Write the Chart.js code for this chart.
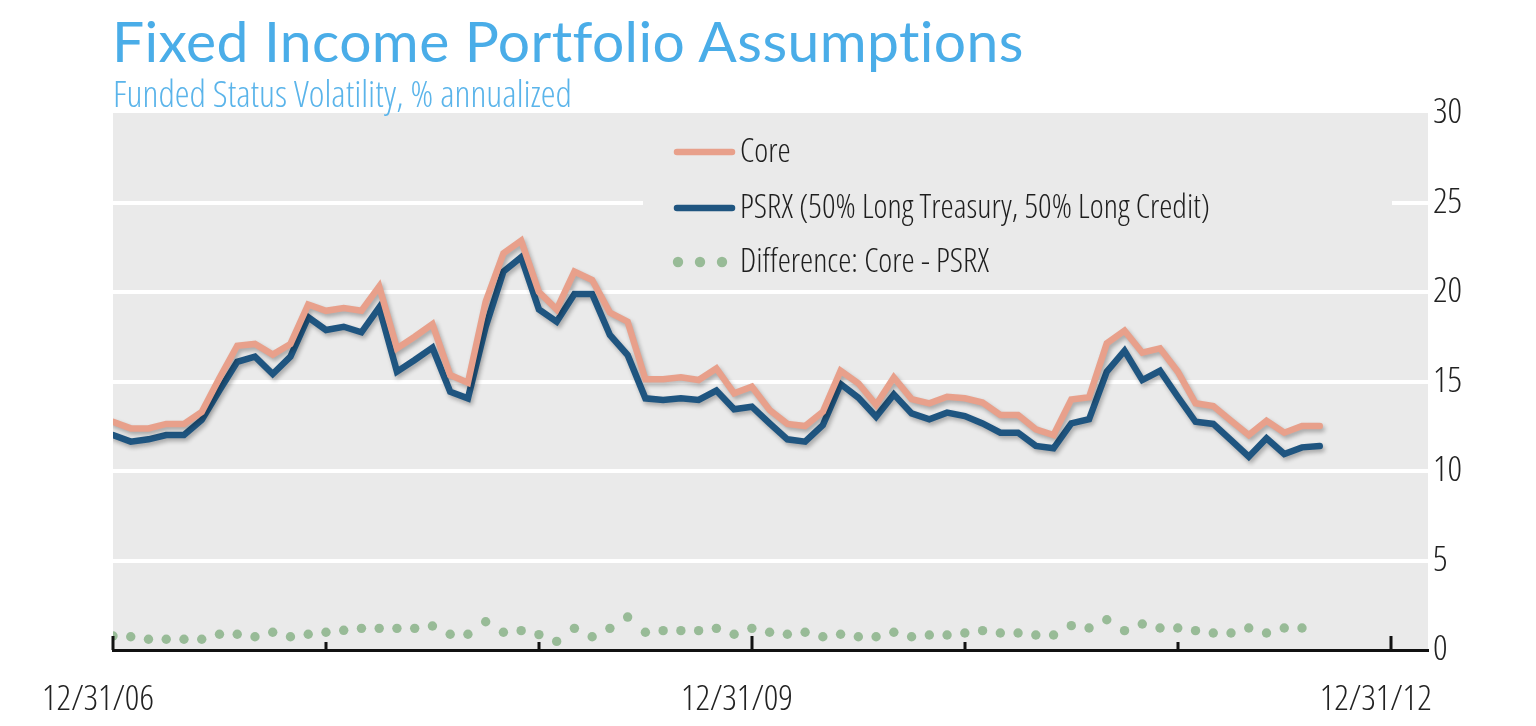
<!DOCTYPE html>
<html>
<head>
<meta charset="utf-8">
<script src="https://cdn.jsdelivr.net/npm/chart.js@4.4.0/dist/chart.umd.min.js"></script>
<style>
  html, body { margin: 0; padding: 0; background: #ffffff; }
  #wrap { position: relative; width: 1536px; height: 726px; overflow: hidden; }
  #title { position: absolute; left: 112px; top: 8px; font-family: Lato, 'Open Sans', sans-serif; font-size: 57px; line-height: 64px; letter-spacing: 0.4px; color: #4aade8; white-space: nowrap; }
  #subtitle { position: absolute; left: 113px; top: 74px; line-height: 1; color: #5ab4ea; white-space: nowrap; }
  canvas { position: absolute; left: 0; top: 0; }
</style>
</head>
<body>
<div id="wrap">
  <canvas id="c" width="1536" height="726"></canvas>
  <div id="title">Fixed Income Portfolio Assumptions</div>
  <div id="subtitle">Funded Status Volatility, % annualized</div>
</div>
<script>
// ---- Data (monthly, starting 12/31/06) ----
const seriesLabels = ['Core', 'PSRX (50% Long Treasury, 50% Long Credit)', 'Difference: Core - PSRX'];
const core = [12.75,12.38,12.38,12.63,12.63,13.3,15.2,17.0,17.1,16.5,17.1,19.3,18.95,19.1,18.95,20.3,16.85,17.5,18.2,15.36,14.93,19.46,22.16,22.87,20.0,19.03,21.14,20.67,18.85,18.34,15.12,15.12,15.23,15.08,15.73,14.34,14.71,13.41,12.63,12.51,13.31,15.6,14.9,13.7,15.23,14.02,13.78,14.15,14.06,13.82,13.13,13.13,12.33,12.01,14.0,14.12,17.13,17.84,16.61,16.85,15.55,13.78,13.63,12.81,12.01,12.81,12.14,12.51,12.51];
const psrx = [12.01,11.64,11.77,12.01,12.01,12.85,14.5,16.1,16.39,15.42,16.39,18.59,17.88,18.06,17.75,19.14,15.55,16.2,16.89,14.43,14.06,18.06,21.14,21.94,19.03,18.34,19.89,19.89,17.6,16.48,14.06,13.97,14.06,13.97,14.49,13.45,13.59,12.66,11.77,11.64,12.57,14.86,14.1,13.03,14.28,13.22,12.89,13.26,13.07,12.66,12.14,12.14,11.4,11.27,12.66,12.89,15.55,16.72,15.08,15.6,14.15,12.75,12.63,11.73,10.8,11.83,10.95,11.32,11.4];
const diff = [0.78,0.74,0.6,0.6,0.6,0.6,0.88,0.88,0.74,0.99,0.74,0.88,0.99,1.1,1.21,1.21,1.21,1.21,1.34,0.88,0.88,1.58,0.99,1.08,0.86,0.48,1.21,0.74,1.21,1.84,0.99,1.08,1.08,1.08,1.21,0.88,1.21,0.99,0.88,0.99,0.74,0.88,0.74,0.74,0.99,0.74,0.84,0.84,0.95,1.08,0.95,0.95,0.84,0.84,1.36,1.23,1.69,1.08,1.45,1.23,1.23,1.08,0.95,0.95,1.23,0.95,1.23,1.23];
const xTickValues = [0, 12, 24, 36, 48, 60, 72];   // months since 12/31/06
const xTickLabels = ['12/31/06', '', '', '12/31/09', '', '', '12/31/12'];
const yTickValues = [0, 5, 10, 15, 20, 25, 30];

const COLORS = { core: '#e8a08b', psrx: '#1f5580', diff: '#98bb97' };

// ---- pick a narrow, light font that is installed ----
const probe = document.createElement('canvas').getContext('2d');
function widthOf(font, text) { probe.font = font; return probe.measureText(text).width; }
const SAMPLE = 'Funded Status Volatility 12/31/06 0123456789';
function pickFont() {
  const osNormal = widthOf("300 40px 'Open Sans'", SAMPLE);
  const osCond = widthOf("300 condensed 40px 'Open Sans'", SAMPLE);
  if (osCond < osNormal * 0.93) return { family: "'Open Sans'", weight: '300 condensed' };
  const mono = widthOf('40px monospace', SAMPLE);
  if (Math.abs(widthOf("40px 'Liberation Sans Narrow', monospace", SAMPLE) - mono) > 1) return { family: "'Liberation Sans Narrow'", weight: '400' };
  if (Math.abs(widthOf("40px 'DejaVu Sans Condensed', monospace", SAMPLE) - mono) > 1) return { family: "'DejaVu Sans Condensed'", weight: '400' };
  return { family: "'Open Sans'", weight: '300' };
}
const NF = pickFont();
function fitSize(text, target) {
  const w = widthOf(NF.weight + ' 40px ' + NF.family, text);
  return Math.max(18, Math.min(42, 40 * target / w));
}
const SUB_SIZE = fitSize('Funded Status Volatility, % annualized', 459);
const LEG_SIZE = fitSize('PSRX (50% Long Treasury, 50% Long Credit)', 470);
const TICK_SIZE = fitSize('12/31/09', 112);

const sub = document.getElementById('subtitle');
sub.style.font = NF.weight + ' ' + SUB_SIZE.toFixed(2) + 'px ' + NF.family;
sub.style.lineHeight = '1';
sub.style.top = (106 - 0.87 * SUB_SIZE).toFixed(1) + 'px';

function toPoints(arr) { return arr.map((v, i) => ({ x: i, y: v })); }

const bgPlugin = {
  id: 'plotBg',
  beforeDraw(chart) {
    const { ctx, chartArea: a } = chart;
    ctx.save();
    ctx.fillStyle = '#eaeaea';
    ctx.fillRect(a.left, a.top, a.right - a.left, a.bottom - a.top);
    ctx.restore();
  }
};

const legendPlugin = {
  id: 'innerLegend',
  beforeDatasetsDraw(chart) {
    const { ctx } = chart;
    ctx.save();
    ctx.fillStyle = '#eaeaea';
    ctx.fillRect(643, 128, 749, 152);
    const rows = [152, 208, 262];
    chart.data.datasets.forEach((ds, i) => {
      const y = rows[i];
      if (ds.showLine === false) {
        ctx.fillStyle = ds.pointBackgroundColor;
        [678, 700, 722].forEach(px => { ctx.beginPath(); ctx.arc(px, y, 5.2, 0, Math.PI * 2); ctx.fill(); });
      } else {
        ctx.strokeStyle = ds.borderColor;
        ctx.lineWidth = 6.5;
        ctx.lineCap = 'round';
        ctx.beginPath(); ctx.moveTo(677, y); ctx.lineTo(732, y); ctx.stroke();
      }
      ctx.fillStyle = '#1e1e1e';
      ctx.font = NF.weight + ' ' + LEG_SIZE.toFixed(2) + 'px ' + NF.family;
      ctx.textBaseline = 'middle';
      ctx.textAlign = 'left';
      ctx.fillText(ds.label, 740, y + 1);
    });
    ctx.restore();
  }
};

const shadowPlugin = {
  id: 'lineShadow',
  beforeDatasetDraw(chart, args) {
    const ds = chart.data.datasets[args.index];
    chart.ctx.save();
    if (ds.showLine !== false) {
      chart.ctx.shadowColor = 'rgba(0,0,0,0.28)';
      chart.ctx.shadowBlur = 4;
      chart.ctx.shadowOffsetX = 2;
      chart.ctx.shadowOffsetY = 3;
    }
  },
  afterDatasetDraw(chart) { chart.ctx.restore(); }
};

const tickMarkPlugin = {
  id: 'innerTicks',
  afterDatasetsDraw(chart) {
    const { ctx, chartArea: a, scales: { x } } = chart;
    ctx.save();
    ctx.fillStyle = '#111111';
    xTickValues.forEach((v, i) => {
      const px = Math.round(x.getPixelForValue(v));
      const h = xTickLabels[i] ? 14 : 8;
      ctx.fillRect(px - 1.5, a.bottom - h, 3, h);
    });
    ctx.restore();
  }
};

const tickFont = { family: NF.family, weight: NF.weight, size: TICK_SIZE };

new Chart(document.getElementById('c'), {
  type: 'line',
  data: {
    datasets: [
      { label: seriesLabels[0], data: toPoints(core), borderColor: COLORS.core, backgroundColor: COLORS.core, borderWidth: 6.5, pointRadius: 0, borderJoinStyle: 'miter', borderCapStyle: 'round', tension: 0, order: 0 },
      { label: seriesLabels[1], data: toPoints(psrx), borderColor: COLORS.psrx, backgroundColor: COLORS.psrx, borderWidth: 6.5, pointRadius: 0, borderJoinStyle: 'miter', borderCapStyle: 'round', tension: 0, order: 1 },
      { label: seriesLabels[2], data: toPoints(diff), showLine: false, pointRadius: 4.7, pointBorderWidth: 0, pointBackgroundColor: COLORS.diff, borderColor: COLORS.diff, backgroundColor: COLORS.diff, order: 2 }
    ]
  },
  options: {
    responsive: false,
    devicePixelRatio: 1,
    animation: false,
    layout: { padding: { left: 113, top: 113, right: 0, bottom: 0 } },
    plugins: { legend: { display: false }, tooltip: { enabled: false } },
    scales: {
      x: {
        type: 'linear', min: 0, max: 74.1,
        afterBuildTicks(scale) { scale.ticks = xTickValues.map(v => ({ value: v })); },
        afterFit(scale) { scale.height = 76; },
        grid: { drawOnChartArea: false, drawTicks: false, color: 'rgba(0,0,0,0)' },
        border: { display: true, color: '#111111', width: 3 },
        ticks: {
          autoSkip: false, maxRotation: 0, padding: 28, labelOffset: -15,
          color: '#222222', font: tickFont,
          callback(value) { const i = xTickValues.indexOf(value); return i >= 0 ? xTickLabels[i] : ''; }
        }
      },
      y: {
        position: 'right', min: 0, max: 30,
        afterBuildTicks(scale) { scale.ticks = yTickValues.map(v => ({ value: v })); },
        afterFit(scale) { scale.width = 108; },
        grid: {
          drawTicks: false, lineWidth: 4,
          color(ctx) { const v = ctx.tick && ctx.tick.value; return (v > 0 && v < 30) ? '#ffffff' : 'rgba(0,0,0,0)'; }
        },
        border: { display: false },
        ticks: { padding: 5, color: '#222222', font: tickFont }
      }
    }
  },
  plugins: [bgPlugin, legendPlugin, shadowPlugin, tickMarkPlugin]
});
</script>
</body>
</html>
